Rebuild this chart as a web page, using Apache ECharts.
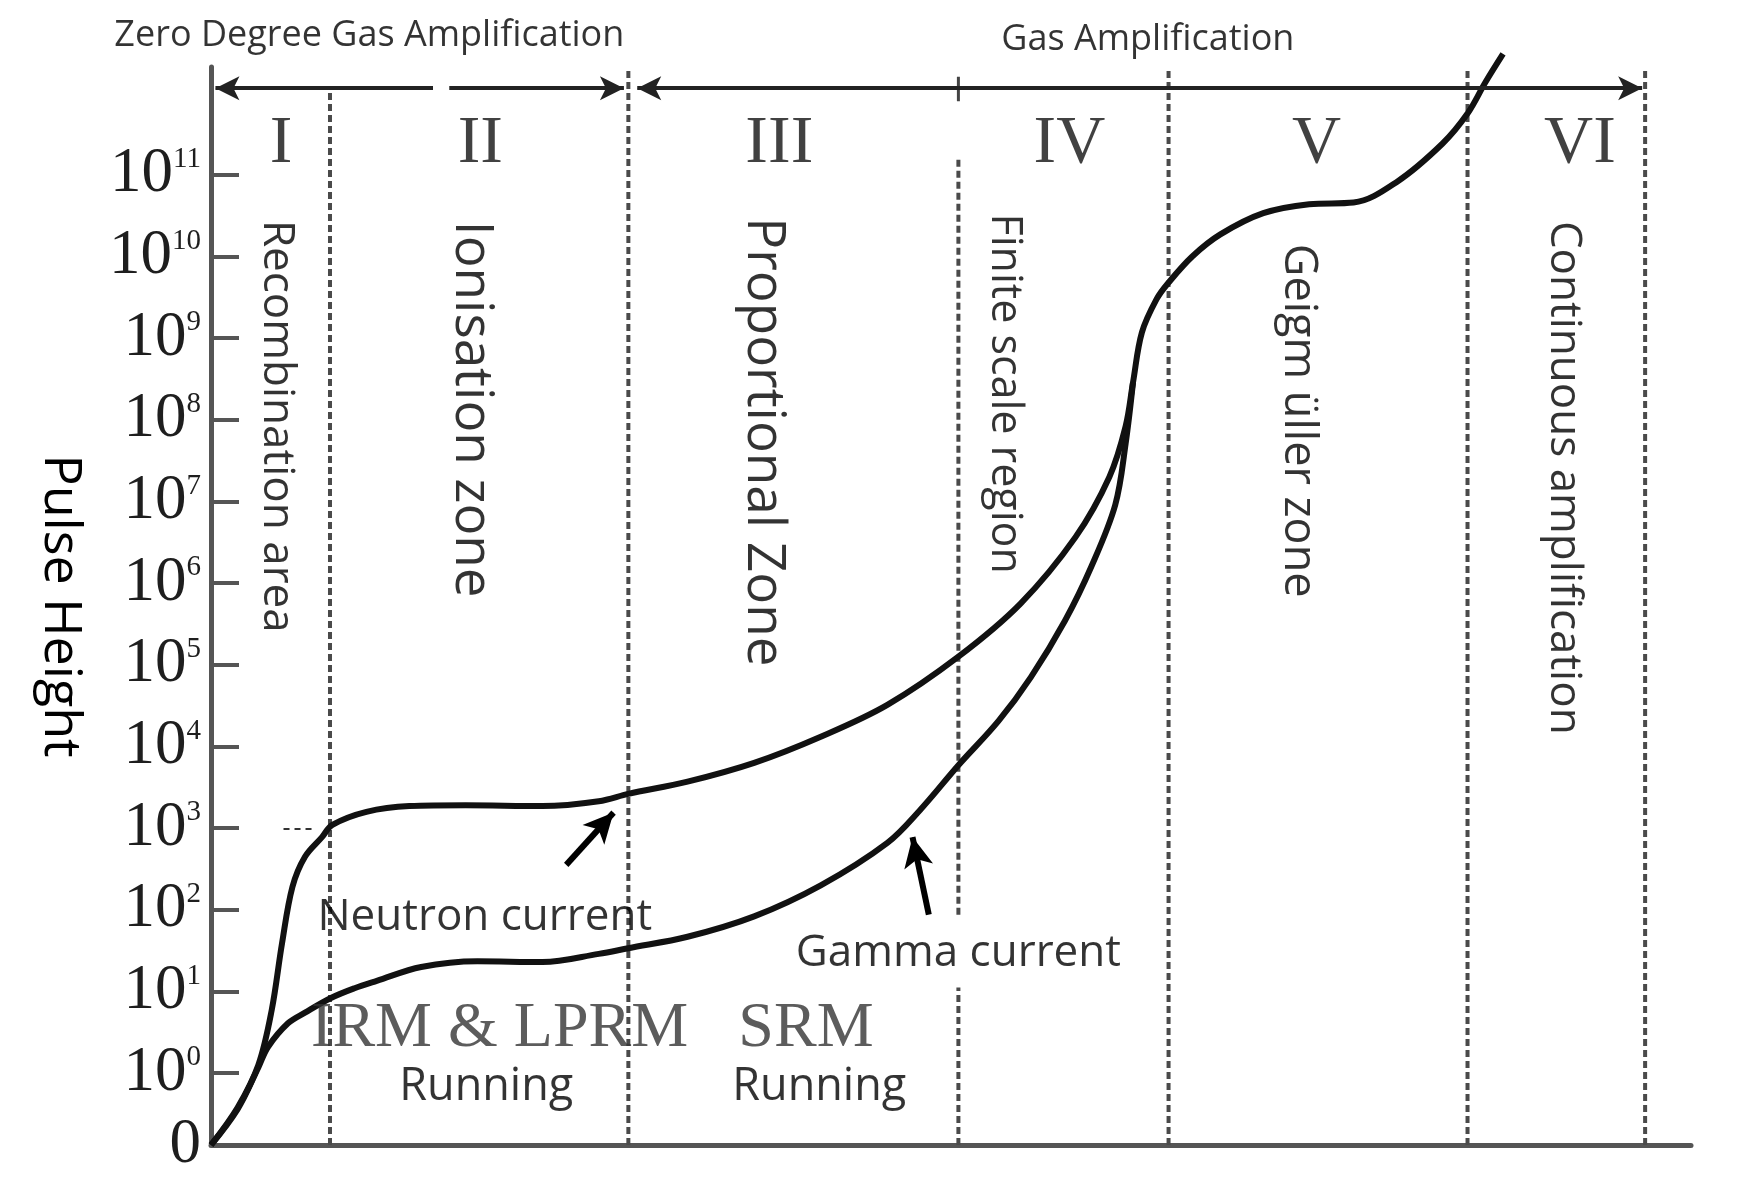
<!DOCTYPE html>
<html>
<head>
<meta charset="utf-8">
<title>Gas detector regions</title>
<script src="https://cdn.jsdelivr.net/npm/echarts@6/dist/echarts.min.js"></script>
<style>
  html, body { margin: 0; padding: 0; background: #fff; }
  #chart { width: 1739px; height: 1201px; }
</style>
</head>
<body>
<div id="chart"></div>
<script>
    // y values are log10(pulse height); x is applied voltage, arbitrary units 0..100
    var ZERO = -0.88          // where the "0" label sits below 10^0
    var TOP = 12.32
    var decades = [0, 1, 2, 3, 4, 5, 6, 7, 8, 9, 10, 11]

    var neutronCurrent = [
        [0, -0.88], [1.8, -0.42], [3.2, 0.1], [4.1, 0.77], [4.8, 1.59], [5.5, 2.28],
        [6.35, 2.65], [7.5, 2.89], [8.2, 3.04], [10.5, 3.2], [13.4, 3.27], [17.2, 3.28],
        [22.4, 3.27], [26.2, 3.33], [28.2, 3.42], [32.2, 3.57], [36.7, 3.8], [41.2, 4.12],
        [45.7, 4.51], [50.5, 5.1], [54.7, 5.75], [58.4, 6.56], [60.7, 7.3], [61.8, 7.92],
        [62.3, 8.46], [62.9, 9.07], [63.9, 9.48], [64.7, 9.68], [66.3, 10.0], [68.2, 10.27],
        [71.1, 10.53], [74.2, 10.64], [77.2, 10.66], [80.1, 10.91], [83.2, 11.38],
        [84.9, 11.75], [86.1, 12.13], [87.3, 12.48]
    ]
    var gammaCurrent = [
        [0, -0.88], [1.8, -0.44], [3.2, 0.07], [3.85, 0.32], [5.2, 0.61], [6.35, 0.74],
        [8.1, 0.92], [9.7, 1.04], [11.2, 1.13], [14.2, 1.3], [18.0, 1.37], [22.4, 1.36],
        [26.2, 1.46], [28.2, 1.53], [32.2, 1.67], [36.7, 1.92], [41.2, 2.3], [45.7, 2.82],
        [47.9, 3.22], [50.5, 3.77], [53.2, 4.31], [55.4, 4.85], [57.7, 5.54], [59.5, 6.21],
        [61.1, 6.96], [61.8, 7.71], [62.3, 8.46]
    ]

    // region boundaries (dashed) and where each dashed line starts at the top
    var regionBounds = [8.04, 28.2, 50.5, 64.7, 84.9, 96.9]
    var boundTops = [12.06, 12.32, 11.2, 12.3, 12.32, 12.32]
    // the "Gamma current" label box hides part of the IV boundary
    var boundGaps = {2: [1.05, 1.94]}
    var regionNames = ['I', 'II', 'III', 'IV', 'V', 'VI']
    var regionCentres = [4.73, 18.2, 38.4, 58.0, 74.7, 92.5]
    var regionLabels = ['Recombination area', 'Ionisation zone', 'Proportional Zone',
        'Finite scale region', 'Geigm üller zone', 'Continuous amplification']

    var ARROW_Y = 12.06

    var SANS = '"Open Sans", "Noto Sans", sans-serif'
    var SERIF = '"Liberation Serif", "DejaVu Serif", serif'

    // text annotations, [text, x, y, style]
    var notes = [
        ['Zero Degree Gas Amplification', 10.7, 12.7, {fontSize: 36, fontFamily: SANS}],
        ['Gas Amplification', 63.3, 12.65, {fontSize: 36, fontFamily: SANS}],
        ['Neutron current', 18.5, 1.9, {fontSize: 44, fontFamily: SANS}],
        ['Gamma current', 50.5, 1.46, {fontSize: 44, fontFamily: SANS}],
        ['IRM & LPRM', 19.5, 0.54, {fontSize: 64, fontFamily: SERIF, color: '#333'}],
        ['SRM', 40.2, 0.54, {fontSize: 64, fontFamily: SERIF, color: '#333'}],
        ['Running', 18.6, -0.17, {fontSize: 45, fontFamily: SANS}],
        ['Running', 41.1, -0.17, {fontSize: 45, fontFamily: SANS}]
    ]
    var sideY = [7.92, 8.13, 7.73, 8.32, 7.99, 7.29]
    var sideX = [4.46, 17.6, 37.3, 53.6, 73.4, 91.4]
    var sideSize = [44, 53, 53, 43, 45, 44]

    var noteData = []
    notes.forEach(function (n) {
        noteData.push({name: n[0], value: [n[1], n[2]], label: Object.assign({color: '#000'}, n[3])})
    })
    regionNames.forEach(function (r, i) {
        noteData.push({name: r, value: [regionCentres[i], 11.38],
            label: {fontSize: 68, fontFamily: SERIF, color: '#111'}})
    })
    regionLabels.forEach(function (r, i) {
        noteData.push({name: r, value: [sideX[i], sideY[i]],
            label: {fontSize: sideSize[i], fontFamily: SANS, color: '#000', rotate: -90}})
    })

    var dashSeries = regionBounds.map(function (x, i) {
        var pts = [[x, ZERO]]
        if (boundGaps[i]) {
            pts.push([x, boundGaps[i][0]], null, [x, boundGaps[i][1]])
        }
        pts.push([x, boundTops[i]])
        return {
            type: 'line', silent: true, symbol: 'none', clip: false, z: 1,
            connectNulls: false,
            lineStyle: {color: '#4a4a4a', width: 4, type: [7, 4]},
            data: pts
        }
    })

    var chart = echarts.init(document.getElementById('chart'))
    chart.setOption({
        backgroundColor: '#fff',
        animation: false,
        grid: {left: 211, right: 48, top: 67, bottom: 56},
        xAxis: {
            type: 'value', min: 0, max: 100,
            axisLine: {onZero: false, lineStyle: {color: '#555', width: 5}},
            axisTick: {show: false}, axisLabel: {show: false}, splitLine: {show: false}
        },
        yAxis: {
            type: 'value', min: ZERO, max: TOP,
            name: 'Pulse Height', nameLocation: 'middle', nameRotate: -90, nameGap: 125,
            nameTextStyle: {fontSize: 52, fontFamily: SANS, color: '#000'},
            axisLine: {onZero: false, lineStyle: {color: '#555', width: 5}},
            axisTick: {inside: true, length: 28, customValues: decades, lineStyle: {color: '#555', width: 4}},
            splitLine: {show: false},
            axisLabel: {
                customValues: [ZERO].concat(decades),
                margin: 10,
                formatter: function (v) {
                    if (v < 0) return '{b|0}'
                    return '{b|10}{s|' + Math.round(v) + '}'
                },
                rich: {
                    b: {fontFamily: SERIF, fontSize: 63, color: '#1e1e1e', lineHeight: 60},
                    s: {fontFamily: SERIF, fontSize: 29, color: '#1e1e1e', verticalAlign: 'top', lineHeight: 60}
                }
            }
        },
        series: dashSeries.concat([
            {
                // small dashed stub at the 10^3 level
                type: 'line', silent: true, symbol: 'none', z: 1,
                lineStyle: {color: '#333', width: 2, type: [6, 5]},
                data: [[4.9, 2.99], [7.1, 2.99]]
            },
            {
                type: 'line', silent: true, symbol: 'none', z: 1,
                lineStyle: {color: '#444', width: 3},
                data: [[50.5, 11.9], [50.5, 12.2]]
            },
            {
                name: 'Gamma current', type: 'line', smooth: 0.35, symbol: 'none', clip: false, z: 3,
                lineStyle: {color: '#111', width: 6},
                data: gammaCurrent
            },
            {
                name: 'Neutron current', type: 'line', smooth: 0.35, symbol: 'none', clip: false, z: 3,
                lineStyle: {color: '#111', width: 6},
                data: neutronCurrent,
                markLine: {
                    silent: true, animation: false,
                    label: {show: false},
                    symbolSize: [18, 24],
                    lineStyle: {color: '#222', width: 4, type: 'solid'},
                    data: [
                        [{coord: [0.3, ARROW_Y], symbol: 'arrow'}, {coord: [15.0, ARROW_Y], symbol: 'none'}],
                        [{coord: [16.1, ARROW_Y], symbol: 'none'}, {coord: [27.9, ARROW_Y], symbol: 'arrow'}],
                        [{coord: [28.8, ARROW_Y], symbol: 'arrow'}, {coord: [96.7, ARROW_Y], symbol: 'arrow'}],
                        [{coord: [24.0, 2.55], symbol: 'none', lineStyle: {color: '#000', width: 6}},
                         {coord: [27.2, 3.19], symbol: 'arrow', symbolSize: [22, 30]}],
                        [{coord: [48.5, 1.94], symbol: 'none', lineStyle: {color: '#000', width: 6}},
                         {coord: [47.4, 2.89], symbol: 'arrow', symbolSize: [22, 30]}]
                    ]
                }
            },
            {
                name: 'notes', type: 'scatter', silent: true, clip: false, z: 5,
                symbolSize: 1, itemStyle: {color: 'rgba(0,0,0,0)'},
                label: {show: true, position: 'inside', formatter: '{b}'},
                data: noteData
            }
        ])
    })

    window.addEventListener('resize', function () {
        chart.resize()
    })
</script>
</body>
</html>
